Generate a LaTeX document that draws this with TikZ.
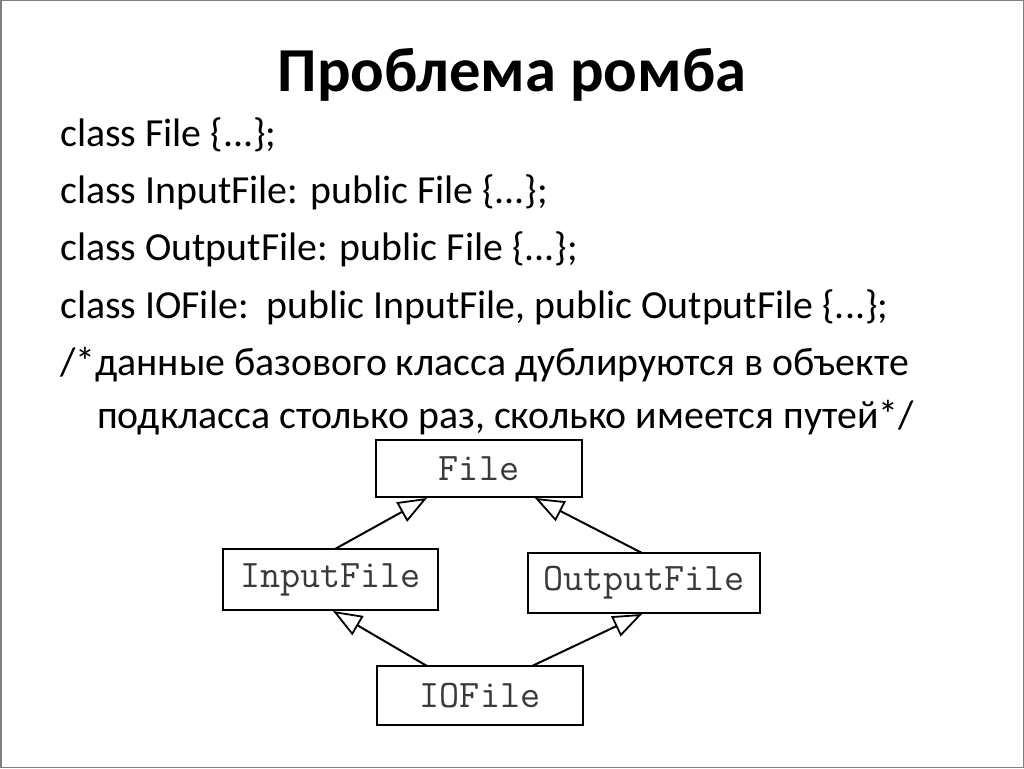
\documentclass[tikz,border=0pt]{standalone}
\usepackage{fontspec}
\setmainfont{Carlito}
\usetikzlibrary{arrows.meta}
\definecolor{boxtext}{HTML}{3A3A3A}
\tikzset{
  cls/.style={draw=black, line width=2.4pt, fill=white, minimum height=#1, inner sep=0pt,
    font=\ttfamily\fontsize{39}{39}\selectfont, text=boxtext},
  inh/.style={line width=2pt, -{Triangle[open, length=29pt, width=22pt, line width=1.8pt]}},
  body/.style={anchor=base west, inner sep=0pt, font=\fontsize{39.8}{40}\selectfont},
}
\begin{document}
\begin{tikzpicture}[x=1pt, y=-1pt]
\useasboundingbox (0,0) rectangle (1024,768);
\fill[white] (0,0) rectangle (1024,768);
\draw[gray, line width=1.5pt] (0.75,0.75) rectangle (1023.25,767.25);
% title
\node[anchor=base, inner sep=0pt, font=\bfseries\fontsize{62.6}{63}\selectfont] (title) at (512,91) {Проблема ромба};
% body
\node[body] (l1) at (60,146) {class File \{...\};};
\node[body] (l2) at (60,203) {class InputFile: public File \{...\};};
\node[body] (l3) at (60,260) {class OutputFile: public File \{...\};};
\node[body] (l4) at (60,318) {class IOFile:\ \ public InputFile, public OutputFile \{...\};};
\node[body] (l5) at (60,375) {/*данные базового класса дублируются в объекте};
\node[body] (l6) at (97,428) {подкласса столько раз, сколько имеется путей*/};
% diagram boxes
\node[cls=57pt, minimum width=206pt] (file) at (479,468.5) {File};
\node[cls=61pt, minimum width=215pt] (input) at (330.5,579.5) {InputFile};
\node[cls=60pt, minimum width=232pt] (output) at (644,583) {OutputFile};
\node[cls=59pt, minimum width=206pt] (io) at (480,695.5) {IOFile};
% inheritance arrows
\coordinate (fa) at (427,498);
\coordinate (fb) at (535,498);
\coordinate (ia) at (335,549);
\coordinate (ib) at (333,611);
\coordinate (oa) at (642,553);
\coordinate (ob) at (642,614);
\coordinate (xa) at (427,666);
\coordinate (xb) at (532,666);
\draw[inh] (ia) -- (fa);
\draw[inh] (oa) -- (fb);
\draw[inh] (xa) -- (ib);
\draw[inh] (xb) -- (ob);
\end{tikzpicture}
\end{document}
